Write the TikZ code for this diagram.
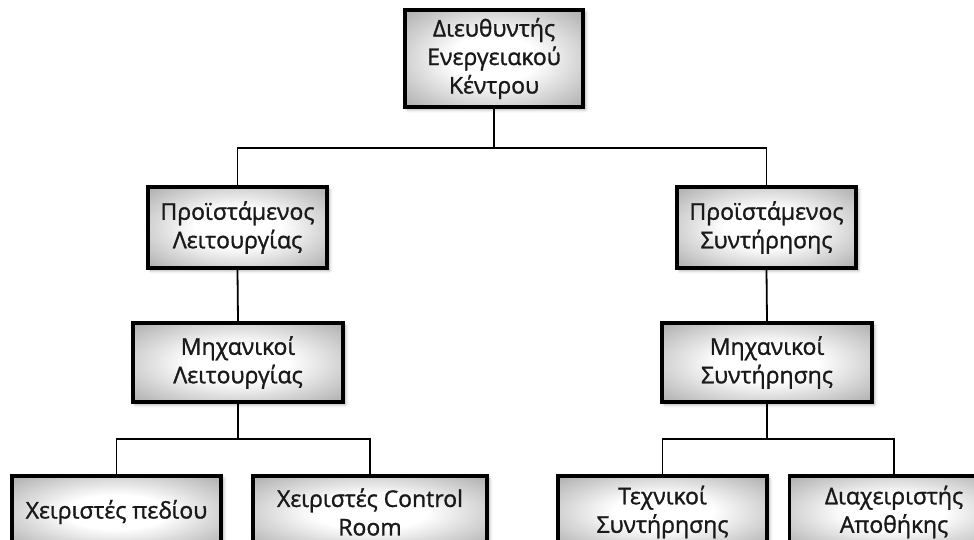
\documentclass[tikz,border=0pt]{standalone}
\usepackage{fontspec}
\setmainfont{Open Sans}
\newfontfamily\boxfont{Open Sans}[FakeBold=1.3]
\usetikzlibrary{shadows.blur}
% white centre fading to grey towards the border of each box
\pgfdeclareradialshading{boxshade}{\pgfpoint{0bp}{0bp}}{%
  color(0bp)=(white); color(12bp)=(white); color(50bp)=(black!52); color(71bp)=(black!66)}
\begin{document}
\begin{tikzpicture}[x=1pt,y=-1pt,
  orgbox/.style={draw=black, line width=3.2pt, shading=boxshade,
    text=black!90, align=center, inner sep=0pt,
    font=\boxfont\fontsize{23}{28.5}\selectfont,
    blur shadow={shadow xshift=2.5pt, shadow yshift=-2.5pt,
      shadow blur radius=3pt, shadow opacity=35}},
  link/.style={line width=1.8pt, line cap=rect}]
\clip (0,0) rectangle (974,539);

% boxes
\node[orgbox, minimum width=178pt, minimum height=97pt] (dir) at (494,58.5)
  {Διευθυντής\\Ενεργειακού\\Κέντρου};
\node[orgbox, minimum width=179pt, minimum height=81pt] (pl) at (237.5,227.5)
  {Προϊστάμενος\\Λειτουργίας};
\node[orgbox, minimum width=179pt, minimum height=81pt] (ps) at (766.5,227.5)
  {Προϊστάμενος\\Συντήρησης};
\node[orgbox, minimum width=210pt, minimum height=79pt] (ml) at (238,362.5)
  {Μηχανικοί\\Λειτουργίας};
\node[orgbox, minimum width=210pt, minimum height=79pt] (ms) at (767,362.5)
  {Μηχανικοί\\Συντήρησης};
\node[orgbox, minimum width=209pt, minimum height=72pt] (xp) at (116.5,512)
  {Χειριστές πεδίου};
\node[orgbox, minimum width=234pt, minimum height=72pt] (xc) at (370,512)
  {Χειριστές Control\\Room};
\node[orgbox, minimum width=209pt, minimum height=72pt] (ts) at (662.5,512)
  {Τεχνικοί\\Συντήρησης};
\node[orgbox, minimum width=209pt, minimum height=72pt] (da) at (894,512)
  {Διαχειριστής\\Αποθήκης};

% bus points
\coordinate (b0) at (494,148);
\coordinate (b1) at (238,439);
\coordinate (b2) at (767,439);

% connectors
\draw[link] (dir.south) -- (b0) -| (pl.north);
\draw[link] (b0) -| (ps.north);
\draw[link] (pl.south) -- (ml.north);
\draw[link] (ps.south) -- (ms.north);
\draw[link] (ml.south) -- (b1) -| (xp.north);
\draw[link] (b1) -| (xc.north);
\draw[link] (ms.south) -- (b2) -| (ts.north);
\draw[link] (b2) -| (da.north);
\end{tikzpicture}
\end{document}
